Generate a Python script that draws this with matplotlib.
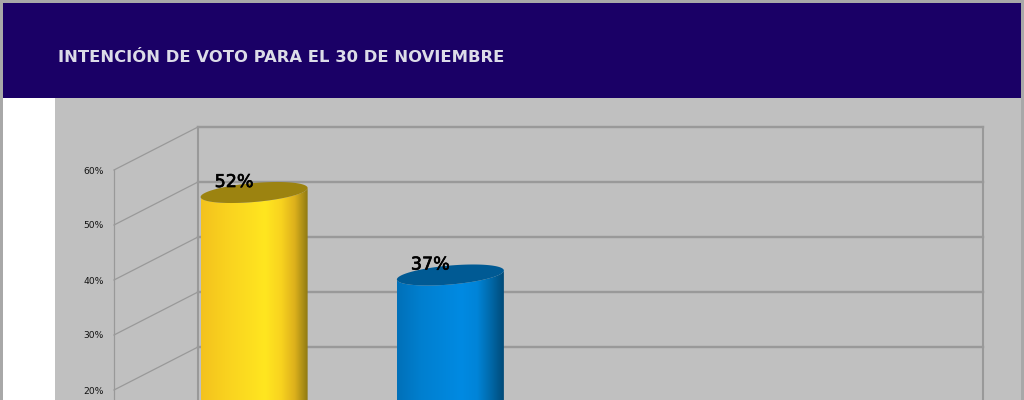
import matplotlib
matplotlib.use("Agg")
import matplotlib.patheffects as pe
import matplotlib.pyplot as plt
import numpy as np
from matplotlib.colors import LinearSegmentedColormap
from matplotlib.patches import Rectangle
from matplotlib.path import Path

W, H = 1024, 400

# datos (el resto queda fuera del recorte)
title = "INTENCIÓN DE VOTO PARA EL 30 DE NOVIEMBRE"
positions = [0, 1]
values = [52, 37]
labels = ["52%", "37%"]
y_ticks = [20, 30, 40, 50, 60]
y_labels = ["20%", "30%", "40%", "50%", "60%"]
n_categories = 4

body_colors = [
    ["#f3c21e", "#f9d11f", "#ffe620", "#f8d31f", "#dcb01c", "#8f7a12"],
    ["#0070b8", "#007fcf", "#008ae2", "#0084d8", "#0068a8", "#004a78"],
]
top_colors = ["#9c8310", "#005a94"]

NAVY = "#1a0066"
PANEL = "#c0c0c0"
GRID = "#999999"
BORDER = "#a8a8a8"

PX_PER_PCT = 5.5
FRONT_L, FRONT_R = 114, 899
PX_PER_CAT = (FRONT_R - FRONT_L) / n_categories

# profundidad de la pared trasera, en unidades de datos
DX = 84 / PX_PER_CAT
DY = 43 / PX_PER_PCT
BAR_W = 107 / PX_PER_CAT
RY = 9.5 / PX_PER_PCT   # semieje vertical de la tapa
TILT = 4.5 / PX_PER_PCT  # inclinacion de la tapa


def px_rect(x0, y0, x1, y1, color):
    fig.patches.append(Rectangle((x0 / W, 1 - y1 / H), (x1 - x0) / W, (y1 - y0) / H,
                                 transform=fig.transFigure, facecolor=color, edgecolor="none"))


fig = plt.figure(figsize=(W / 100, H / 100), dpi=100, facecolor="white")

# ---------- fondo y cabecera ----------
px_rect(55, 98, W, H, PANEL)
px_rect(0, 0, W, 3, BORDER)
px_rect(0, 0, 3, H, BORDER)
px_rect(W - 3, 0, W, H, BORDER)
px_rect(3, 3, W - 3, 98, NAVY)
fig.text(58 / W, 1 - 57 / H, title, color="#dcdce8", fontsize=11.75, fontweight="bold",
         family="DejaVu Sans", va="center", ha="left")

# ---------- ejes: plano frontal ----------
ax = fig.add_axes([FRONT_L / W, 0, (FRONT_R - FRONT_L) / W, 230 / H], zorder=2)
ax.patch.set_visible(False)
for side in ["top", "right", "bottom"]:
    ax.spines[side].set_visible(False)
ax.spines["left"].set_color(GRID)
ax.spines["left"].set_linewidth(0.9)
ax.set_xticks([])
ax.set_yticks(y_ticks)
ax.set_yticklabels(y_labels, fontsize=6.6, color="#111111")
ax.tick_params(axis="y", length=0, pad=7.5)

x_min, x_max = -0.5, n_categories - 0.5
y_min, y_max = 60 - 230 / PX_PER_PCT, 60

# rejilla: paredes lateral y trasera
for y in y_ticks:
    ax.plot([x_min + DX, x_max + DX], [y + DY, y + DY], color=GRID, lw=1.7, clip_on=False, zorder=1)
    ax.plot([x_min, x_min + DX], [y, y + DY], color=GRID, lw=0.9, clip_on=False, zorder=1)
for x in [x_min + DX, x_max + DX]:
    ax.plot([x, x], [0, 60 + DY], color=GRID, lw=1.5, clip_on=False, zorder=1)

# ---------- cilindros ----------
t = np.linspace(0, 2 * np.pi, 121)
for pos, val, label, cols, top in zip(positions, values, labels, body_colors, top_colors):
    xc = pos + DX / 2
    yc = val + DY / 2
    ex = xc + BAR_W / 2 * np.cos(t)
    ey = yc + RY * np.sin(t) + TILT * np.cos(t)

    cmap = LinearSegmentedColormap.from_list("cyl", list(zip([0, 0.22, 0.6, 0.75, 0.88, 1], cols)))
    im = ax.imshow(np.linspace(0, 1, 256)[None, :], cmap=cmap, aspect="auto", zorder=3,
                   extent=(xc - BAR_W / 2, xc + BAR_W / 2, 0, yc + 2 * RY))
    # contorno del cuerpo: mitad inferior de la tapa y los dos lados
    lower = t[(t >= np.pi) & (t <= 2 * np.pi)]
    lx = xc + BAR_W / 2 * np.cos(lower)
    ly = yc + RY * np.sin(lower) + TILT * np.cos(lower)
    verts = np.column_stack([np.r_[lx, lx[-1], lx[0]], np.r_[ly, 0, 0]])
    im.set_clip_path(Path(verts), transform=ax.transData)

    ax.fill(ex, ey, color=top, lw=0, zorder=4, clip_on=False)
    ax.text(xc - 20 / PX_PER_CAT, yc + 10.5 / PX_PER_PCT, label, fontsize=12.6,
            family="DejaVu Sans", color="black", ha="center", va="center", zorder=5,
            path_effects=[pe.withStroke(linewidth=0.5, foreground="black")])

ax.set_xlim(x_min, x_max)
ax.set_ylim(y_min, y_max)

fig.savefig("out.png", dpi=100, facecolor="white")
